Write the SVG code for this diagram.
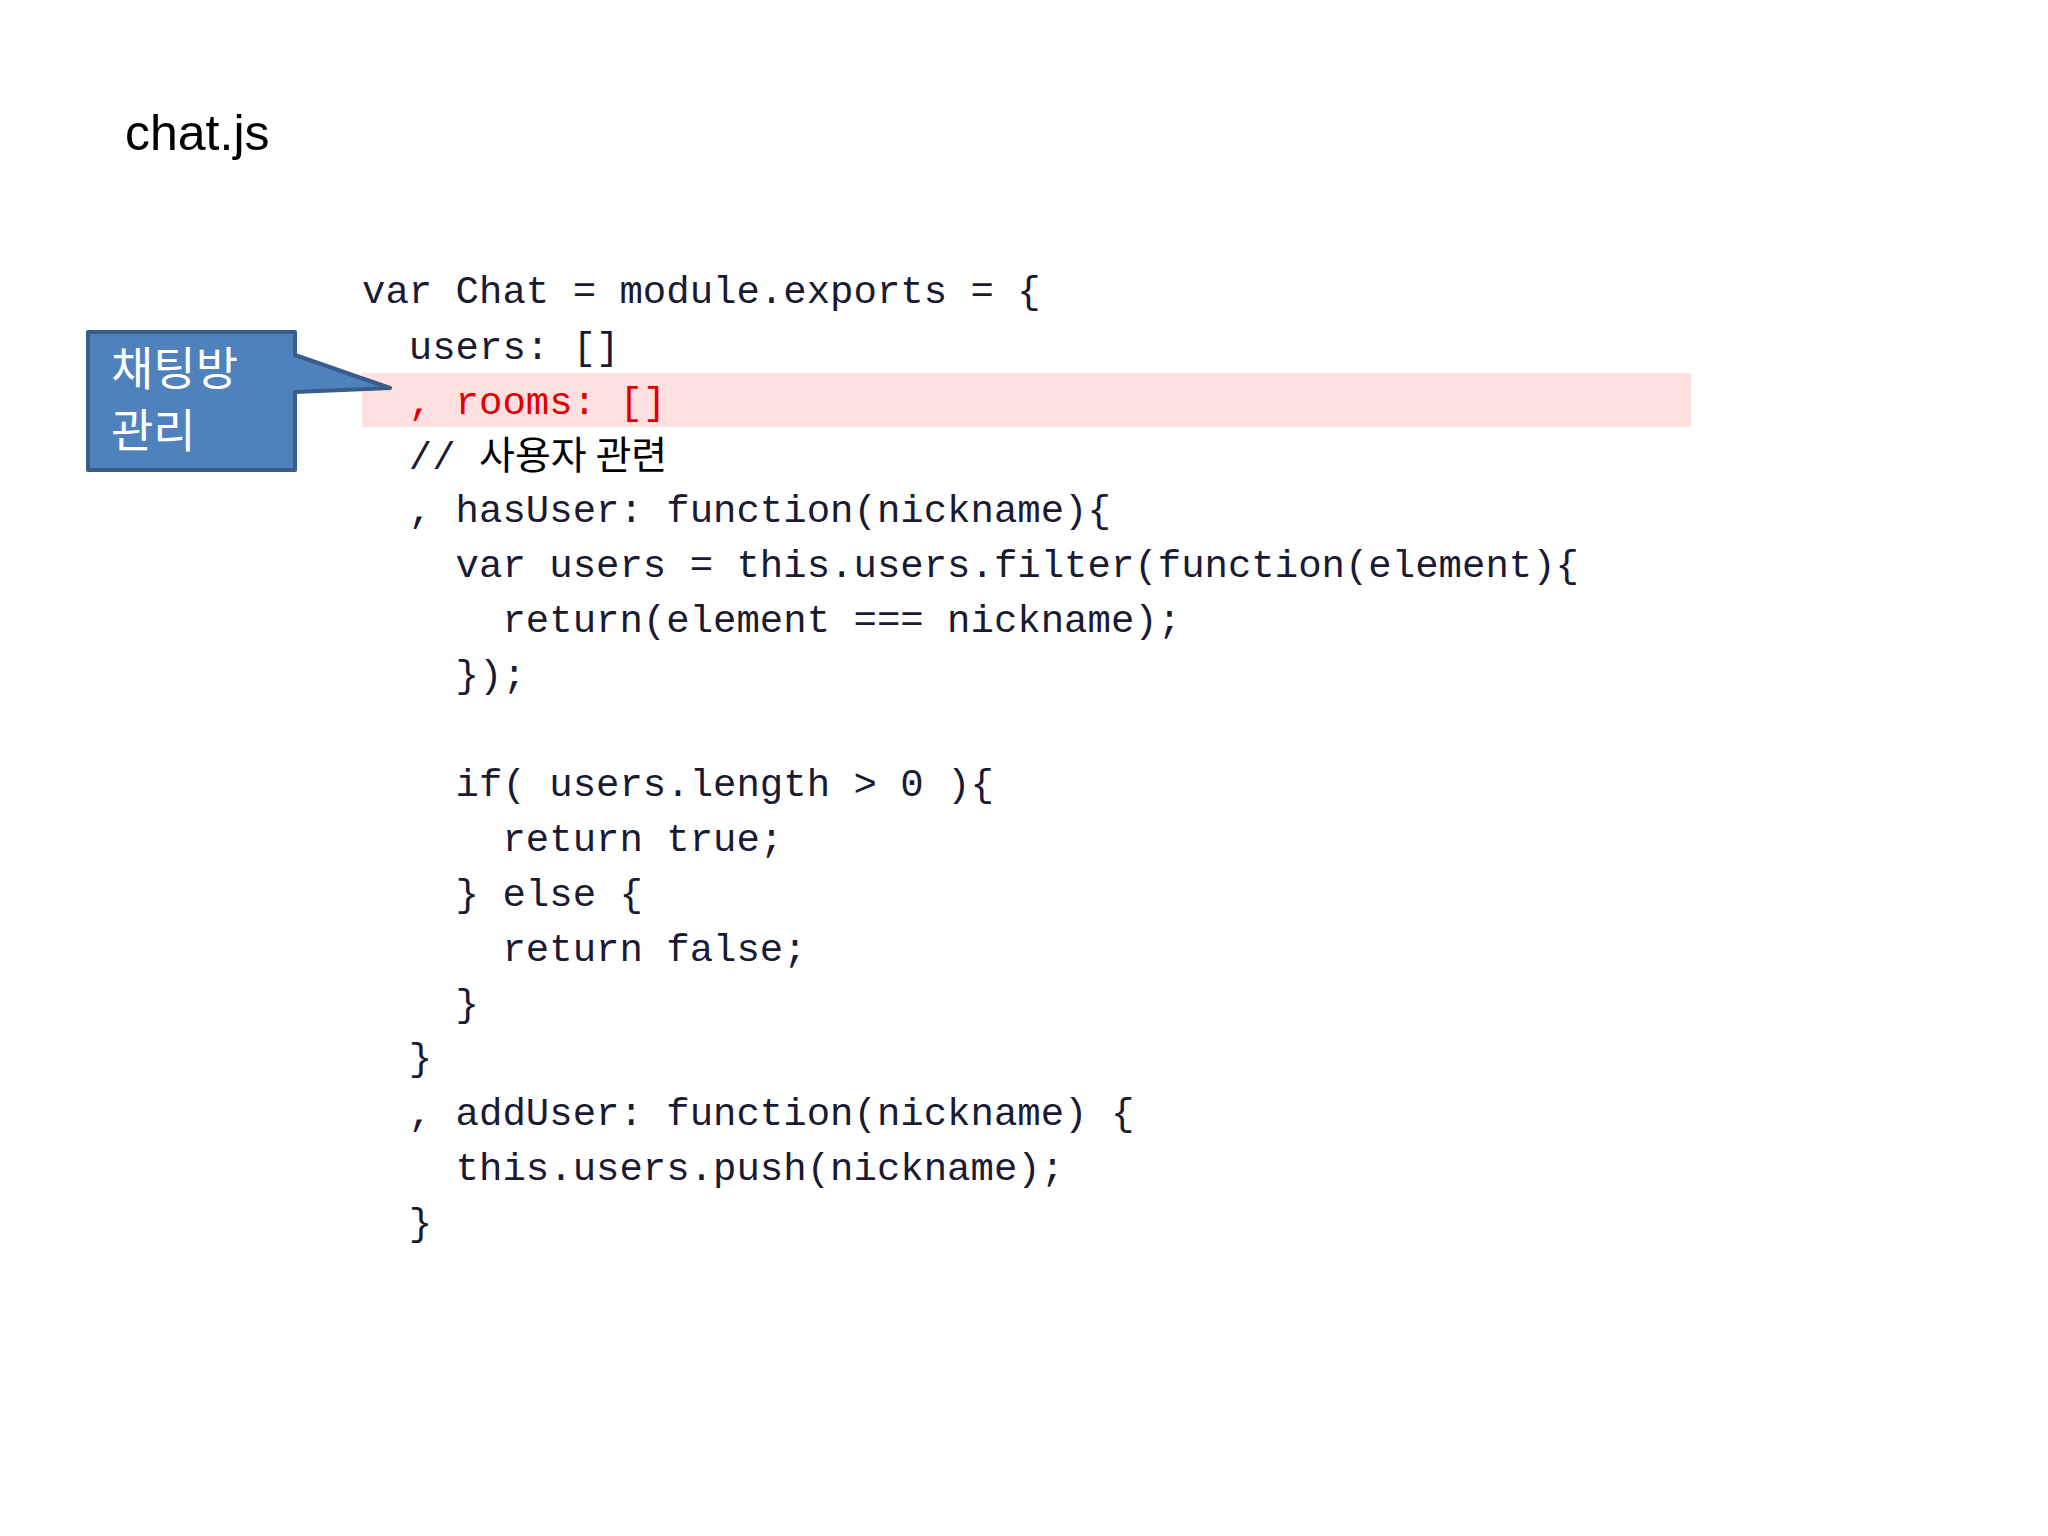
<svg xmlns="http://www.w3.org/2000/svg" width="2048" height="1536" viewBox="0 0 2048 1536">
<style>
.c{font-family:"Liberation Mono","DejaVu Sans Mono","Noto Sans CJK KR",monospace;font-size:39px;fill:#1a1a33;white-space:pre}
.r{fill:#e00000}
.k{font-family:"Noto Sans CJK KR","Noto Sans",sans-serif;fill:#000}
</style>
<rect width="2048" height="1536" fill="#fff"/>
<text x="125" y="150" font-family="Liberation Sans,Arial,sans-serif" font-size="50" fill="#000">chat.js</text>
<rect x="362" y="373" width="1329" height="54" fill="#ffe0e0"/>
<g id="code">
<text class="c" x="362" y="303" xml:space="preserve">var Chat = module.exports = {</text>
<text class="c" x="362" y="359" xml:space="preserve">  users: []</text>
<text class="c r" x="362" y="414" xml:space="preserve">  , rooms: []</text>
<text class="c" x="362" y="469" xml:space="preserve">  // <tspan class="k">사용자 관련</tspan></text>
<text class="c" x="362" y="522" xml:space="preserve">  , hasUser: function(nickname){</text>
<text class="c" x="362" y="577" xml:space="preserve">    var users = this.users.filter(function(element){</text>
<text class="c" x="362" y="632" xml:space="preserve">      return(element === nickname);</text>
<text class="c" x="362" y="687" xml:space="preserve">    });</text>
<text class="c" x="362" y="796" xml:space="preserve">    if( users.length &gt; 0 ){</text>
<text class="c" x="362" y="851" xml:space="preserve">      return true;</text>
<text class="c" x="362" y="906" xml:space="preserve">    } else {</text>
<text class="c" x="362" y="961" xml:space="preserve">      return false;</text>
<text class="c" x="362" y="1016" xml:space="preserve">    }</text>
<text class="c" x="362" y="1070" xml:space="preserve">  }</text>
<text class="c" x="362" y="1125" xml:space="preserve">  , addUser: function(nickname) {</text>
<text class="c" x="362" y="1180" xml:space="preserve">    this.users.push(nickname);</text>
<text class="c" x="362" y="1235" xml:space="preserve">  }</text>
</g>
<g id="callout">
<path d="M88,332 H295 V355 L390,388 L295,392 V470 H88 Z" fill="#4f81bd" stroke="#385d8a" stroke-width="4" stroke-linejoin="round"/>
<text x="111" y="385" font-family="Noto Sans CJK KR,sans-serif" font-size="46" fill="#fff">채팅방</text>
<text x="111" y="447" font-family="Noto Sans CJK KR,sans-serif" font-size="46" fill="#fff">관리</text>
</g>
</svg>
